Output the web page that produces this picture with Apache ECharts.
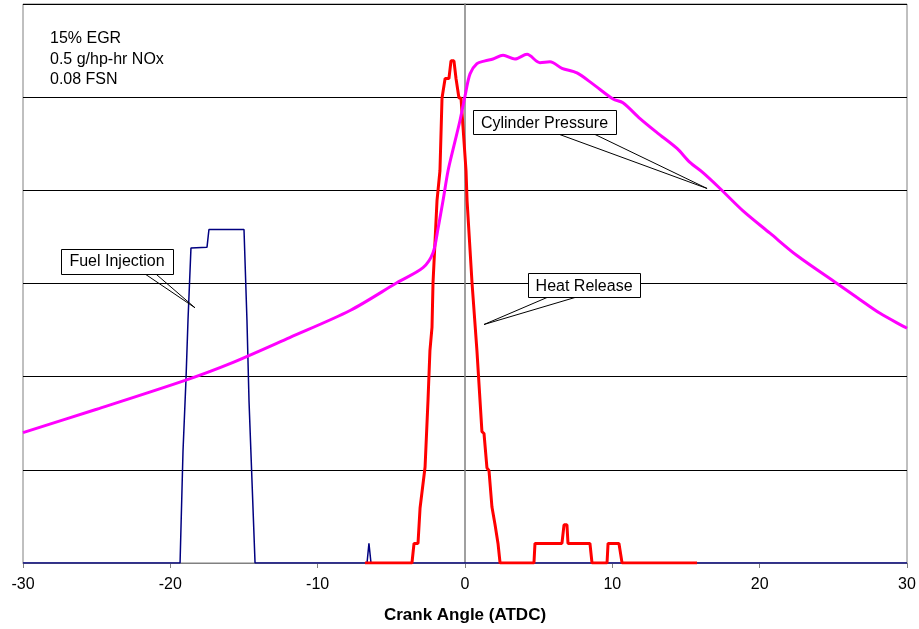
<!DOCTYPE html>
<html>
<head>
<meta charset="utf-8">
<script src="https://cdn.jsdelivr.net/npm/echarts@6/dist/echarts.min.js"></script>
<style>
    html,body{margin:0;padding:0;background:#fff;}
    #main{width:919px;height:629px;}
</style>
</head>
<body>
<div id="main"></div>
<script>
var myChart;

// x axis ticks
var angleTicks = [-30, -20, -10, 0, 10, 20, 30];

// cylinder pressure (magenta)
var pressureAngle = [-30, -25, -19.0, -15.95, -11.9, -7.8, -4.6, -2.85, -2.17, -1.83, -1.49, -1.15, -0.75, -0.34, 0, 0.34, 0.81, 1.36, 1.9, 2.58, 3.39, 4.21, 5.09, 5.77, 6.58, 7.6, 8.69, 10.05, 10.72, 11.88, 13.03, 14.39, 15.27, 16.15, 17.31, 18.87, 20.7, 22.53, 25.25, 26.61, 28.17, 30];
var pressureValue = [1.40, 1.65, 1.96, 2.14, 2.42, 2.71, 3.01, 3.17, 3.33, 3.59, 3.89, 4.21, 4.48, 4.75, 5.01, 5.25, 5.36, 5.39, 5.41, 5.45, 5.41, 5.46, 5.37, 5.38, 5.31, 5.26, 5.14, 4.98, 4.94, 4.77, 4.62, 4.45, 4.30, 4.19, 4.02, 3.78, 3.54, 3.30, 3.00, 2.85, 2.68, 2.52];

// heat release (red)
var heatAngle = [-6.79, -3.60, -3.46, -3.19, -3.05, -2.92, -2.71, -2.51, -2.38, -2.24, -2.17, -1.90, -1.70, -1.56, -1.49, -1.35, -1.22, -1.09, -0.95, -0.75, -0.61, -0.48, -0.41, -0.27, 0.07, 0.14, 0.48, 0.81, 1.15, 1.29, 1.49, 1.63, 1.83, 2.04, 2.24, 2.38, 4.68, 4.75, 6.58, 6.72, 6.92, 6.99, 8.48, 8.62, 9.64, 9.71, 10.45, 10.66, 15.75];
var heatValue = [0, 0, 0.21, 0.21, 0.59, 0.60, 1.03, 1.75, 2.28, 2.53, 3.01, 3.89, 4.21, 4.99, 4.99, 5.20, 5.20, 5.20, 5.39, 5.39, 5.20, 5.20, 4.99, 4.99, 4.21, 3.89, 3.00, 2.28, 1.41, 1.39, 1.02, 0.99, 0.60, 0.41, 0.21, 0, 0, 0.21, 0.21, 0.41, 0.41, 0.21, 0.21, 0, 0, 0.21, 0.21, 0, 0];

// fuel injection (navy)
var fuelAngle = [-30, -19.34, -19.14, -18.94, -18.80, -18.60, -17.51, -17.38, -15.00, -14.80, -14.66, -14.25, -6.65, -6.52, -6.38, 30];
var fuelValue = [0, 0, 1.2, 1.96, 2.61, 3.38, 3.39, 3.58, 3.58, 2.61, 1.74, 0, 0, 0.21, 0, 0];

// text notes
var noteLines = ["15% EGR", "0.5 g/hp-hr NOx", "0.08 FSN"];

// callout boxes: label, box top-left [angle,value], box size, line starts, tip
var callouts = [
    {text:"Cylinder Pressure", box:[0.54, 4.86], w:143, h:24, from:[[6.24, 4.61], [8.69, 4.61]], tip:[16.43, 4.02]},
    {text:"Heat Release", box:[4.28, 3.11], w:112, h:24, from:[[5.57, 2.85], [7.47, 2.85]], tip:[1.29, 2.56]},
    {text:"Fuel Injection", box:[-27.42, 3.375], w:112, h:25, from:[[-21.79, 3.11], [-21.04, 3.11]], tip:[-18.33, 2.74]}
];

var FONT = '"Liberation Sans", Arial, sans-serif';

function zip(a, b){
    var out = [];
    for (var i = 0; i < a.length; i++){
        out.push([a[i], b[i]]);
    }
    return out;
}

function lineSeries(name, data, color, width, smooth){
    return {
        name: name,
        type: 'line',
        data: data,
        smooth: smooth || false,
        showSymbol: false,
        animation: false,
        lineStyle: {color: color, width: width},
        itemStyle: {color: color}
    };
}

var myChartOption = {
    animation: false,
    backgroundColor: '#fff',
    grid: {
        left: 23, right: 12, top: 4, bottom: 66,
        outerBoundsMode: 'none',
        containLabel: false,
        show: true, borderColor: '#808080', borderWidth: 1
    },
    xAxis: {
        type: 'value',
        min: angleTicks[0],
        max: angleTicks[angleTicks.length - 1],
        interval: 10,
        name: 'Crank Angle (ATDC)',
        nameLocation: 'middle',
        nameGap: 44,
        nameTextStyle: {fontFamily: FONT, fontSize: 17, fontWeight: 'bold', color: '#000'},
        axisLine: {lineStyle: {color: '#808080', width: 1}},
        axisTick: {show: true, length: 5, lineStyle: {color: '#808080'}},
        axisLabel: {fontFamily: FONT, fontSize: 16, color: '#000', margin: 14},
        splitLine: {show: false}
    },
    yAxis: {
        type: 'value',
        min: 0,
        max: 6,
        interval: 1,
        axisLine: {show: true, onZero: true, lineStyle: {color: '#808080', width: 1.5}},
        axisTick: {show: false},
        axisLabel: {show: false},
        splitLine: {show: true, lineStyle: {color: '#000', width: 1}}
    },
    series: [
        lineSeries('Fuel Injection', zip(fuelAngle, fuelValue), '#000080', 1.5),
        lineSeries('Heat Release', zip(heatAngle, heatValue), '#FF0000', 3),
        lineSeries('Cylinder Pressure', zip(pressureAngle, pressureValue), '#FF00FF', 3, 0.3)
    ]
};

function px(pt){
    return myChart.convertToPixel({gridIndex: 0}, pt);
}

function buildGraphics(){
    var els = [];
    // notes at top left
    for (var i = 0; i < noteLines.length; i++){
        els.push({
            type: 'text', z: 100,
            style: {x: 50, y: 39 + i * 20.5, text: noteLines[i], font: '16px ' + FONT, fill: '#000', textVerticalAlign: 'middle'}
        });
    }
    callouts.forEach(function(c){
        var b = px(c.box), t = px(c.tip);
        c.from.forEach(function(f){
            var s = px(f);
            els.push({type: 'line', z: 100, shape: {x1: s[0], y1: s[1], x2: t[0], y2: t[1]}, style: {stroke: '#000', lineWidth: 1}});
        });
        els.push({type: 'rect', z: 101, shape: {x: Math.round(b[0]) + 0.5, y: Math.round(b[1]) + 0.5, width: c.w, height: c.h}, style: {fill: '#fff', stroke: '#000', lineWidth: 1}});
        els.push({type: 'text', z: 102, style: {x: b[0] + c.w / 2, y: b[1] + c.h / 2 + 1, text: c.text, font: '16px ' + FONT, fill: '#000', textAlign: 'center', textVerticalAlign: 'middle'}});
    });
    return els;
}

myChart = echarts.init(document.getElementById('main'), null, {renderer: 'canvas'});
myChart.setOption(myChartOption);
myChart.setOption({graphic: buildGraphics()});
</script>
</body>
</html>
